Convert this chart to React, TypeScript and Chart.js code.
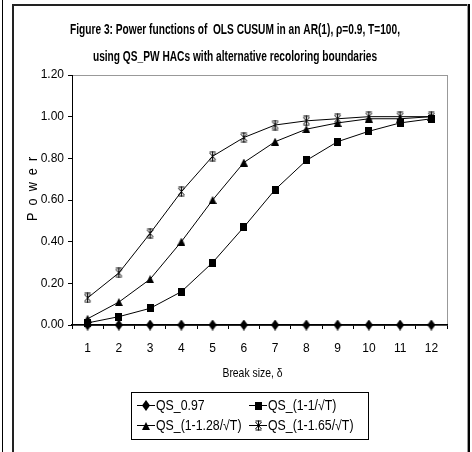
import React, { useEffect, useRef } from "react";
import { Chart, registerables } from "chart.js";

Chart.register(...registerables);

const categories = ["1", "2", "3", "4", "5", "6", "7", "8", "9", "10", "11", "12"];
const seriesLabels = ["QS_0.97", "QS_(1-1/\u221AT)", "QS_(1-1.28/\u221AT)", "QS_(1-1.65/\u221AT)"];
const qs097 = [0, 0, 0, 0, 0, 0, 0, 0, 0, 0, 0, 0];
const qs1 = [0.01, 0.04, 0.08, 0.16, 0.3, 0.47, 0.65, 0.79, 0.88, 0.93, 0.97, 0.99];
const qs128 = [0.03, 0.11, 0.22, 0.4, 0.6, 0.78, 0.88, 0.94, 0.97, 0.99, 0.99, 1.0];
const qs165 = [0.13, 0.25, 0.44, 0.64, 0.81, 0.9, 0.96, 0.98, 0.99, 1.0, 1.0, 1.0];
const titleLines = [
  "Figure 3: Power functions of  OLS CUSUM in an AR(1), \u03C1=0.9, T=100,",
  "using QS_PW HACs with alternative recoloring boundaries",
];
const xTitle = "Break size, \u03B4";
const yTitle = "P o w e r";

const FONT = "'Liberation Sans', Arial, sans-serif";

function makeMarker(kind: string): HTMLCanvasElement {
  const c = document.createElement("canvas");
  const ctx = c.getContext("2d")!;
  ctx.fillStyle = "#000";
  ctx.strokeStyle = "#000";
  if (kind === "diamond") {
    c.width = 8; c.height = 11;
    ctx.beginPath();
    ctx.moveTo(4, 0); ctx.lineTo(8, 5.5); ctx.lineTo(4, 11); ctx.lineTo(0, 5.5);
    ctx.closePath(); ctx.fill();
  } else if (kind === "square") {
    c.width = 7; c.height = 8;
    ctx.fillRect(0, 0, 7, 8);
  } else if (kind === "triangle") {
    c.width = 8; c.height = 8;
    ctx.beginPath();
    ctx.moveTo(4, 0); ctx.lineTo(8, 8); ctx.lineTo(0, 8);
    ctx.closePath(); ctx.fill();
  } else {
    c.width = 9; c.height = 11;
    ctx.lineWidth = 1;
    ctx.beginPath();
    ctx.moveTo(1.5, 2); ctx.lineTo(7.5, 9);
    ctx.moveTo(7.5, 2); ctx.lineTo(1.5, 9);
    ctx.moveTo(4.5, 0.5); ctx.lineTo(4.5, 10.5);
    ctx.moveTo(1.5, 1); ctx.lineTo(7.5, 1);
    ctx.moveTo(1.5, 10); ctx.lineTo(7.5, 10);
    ctx.stroke();
  }
  return c;
}

function drawText(ctx: CanvasRenderingContext2D, text: string, x: number, y: number, font: string, sx: number, align: CanvasTextAlign, rot = 0, spacing = "0px") {
  ctx.save();
  ctx.font = font;
  (ctx as any).letterSpacing = spacing;
  ctx.fillStyle = "#000";
  ctx.textAlign = align;
  ctx.textBaseline = "middle";
  ctx.translate(x, y);
  if (rot) ctx.rotate(rot);
  ctx.scale(sx, 1);
  ctx.fillText(text, 0, 0);
  ctx.restore();
}

export default function App() {
  const ref = useRef<HTMLCanvasElement | null>(null);

  useEffect(() => {
    document.body.style.margin = "0";
    const markers = [makeMarker("diamond"), makeMarker("square"), makeMarker("triangle"), makeMarker("star")];
    const values = [qs097, qs1, qs128, qs165];

    const framePlugin = {
      id: "frame",
      beforeDraw(chart: any) {
        const { ctx, chartArea } = chart;
        ctx.save();
        ctx.fillStyle = "#fff";
        ctx.fillRect(0, 0, chart.width, chart.height);
        ctx.fillStyle = "#000";
        ctx.fillRect(2, 0, 1, chart.height);
        ctx.fillStyle = "#222";
        ctx.fillRect(12, 4, 2, chart.height - 4);
        ctx.fillRect(12, 4, 456, 2);
        ctx.fillStyle = "#999";
        ctx.fillRect(467, 4, 1, chart.height - 4);
        ctx.fillStyle = "#000";
        ctx.fillRect(468, 4, 2, chart.height - 4);
        ctx.strokeStyle = "#999";
        ctx.lineWidth = 1;
        ctx.strokeRect(chartArea.left + 0.5, chartArea.top + 0.5, chartArea.right - chartArea.left, chartArea.bottom - chartArea.top);
        ctx.restore();
      },
    };

    const textPlugin = {
      id: "texts",
      afterDraw(chart: any) {
        const { ctx, chartArea } = chart;
        const tFont = `bold 15px ${FONT}`;
        ctx.save();
        ctx.font = tFont;
        const w1 = ctx.measureText(titleLines[0]).width;
        ctx.restore();
        const sx = 330 / w1;
        drawText(ctx, titleLines[0], 235, 30, tFont, sx, "center");
        drawText(ctx, titleLines[1], 235, 57, tFont, sx, "center");
        drawText(ctx, xTitle, (chartArea.left + chartArea.right) / 2 - 7, 373, `13px ${FONT}`, 0.8, "center");
        drawText(ctx, yTitle, 33, 188, `14px ${FONT}`, 0.9, "center", -Math.PI / 2, "2px");
        const bx = 131, by = 392, bw = 237, bh = 47;
        ctx.save();
        ctx.strokeStyle = "#000";
        ctx.lineWidth = 1;
        ctx.strokeRect(bx + 0.5, by + 0.5, bw, bh);
        chart.data.datasets.forEach((ds: any, i: number) => {
          const col = i % 2, row = Math.floor(i / 2);
          const x0 = bx + 6 + col * 112;
          const y0 = by + 13 + row * 20;
          ctx.beginPath();
          ctx.lineWidth = 1;
          ctx.moveTo(x0, y0 + 0.5);
          ctx.lineTo(x0 + 18, y0 + 0.5);
          ctx.stroke();
          const m = ds.pointStyle as HTMLCanvasElement;
          ctx.drawImage(m, Math.round(x0 + 9 - m.width / 2), Math.round(y0 - m.height / 2 + 0.5));
          drawText(ctx, ds.label, x0 + 19, y0 + 1, `14px ${FONT}`, 0.88, "left");
        });
        ctx.restore();
      },
    };

    const chart = new Chart(ref.current!, {
      type: "line",
      data: {
        labels: categories,
        datasets: values.map((v, i) => ({
          label: seriesLabels[i],
          data: v,
          borderColor: "#000",
          backgroundColor: "#000",
          borderWidth: 1,
          pointStyle: markers[i] as any,
          pointRadius: 4,
          tension: 0,
          clip: false as any,
        })),
      },
      options: {
        animation: false,
        responsive: false,
        maintainAspectRatio: false,
        layout: { padding: { left: 0, right: 25, top: 75, bottom: 67 } },
        plugins: {
          legend: { display: false },
          tooltip: { enabled: false },
          title: { display: false },
        },
        scales: {
          x: {
            type: "category",
            offset: true,
            grid: { display: true, offset: true, drawOnChartArea: false, drawTicks: true, tickLength: 4, color: "#000" },
            border: { display: true, color: "#000", width: 1.5 },
            ticks: { color: "#000", font: { family: FONT, size: 12 }, padding: 12, maxRotation: 0, autoSkip: false },
            afterFit(scale: any) { scale.height = 60; },
          },
          y: {
            min: 0,
            max: 1.2,
            ticks: {
              stepSize: 0.2,
              color: "#000",
              font: { family: FONT, size: 12 },
              padding: 4,
              callback: (v: any) => Number(v).toFixed(2),
            },
            grid: { display: true, drawOnChartArea: false, drawTicks: true, tickLength: 4, color: "#000" },
            border: { display: true, color: "#000", width: 1 },
            afterFit(scale: any) { scale.width = 72; },
          },
        },
      },
      plugins: [framePlugin, textPlugin],
    });
    return () => chart.destroy();
  }, []);

  return (
    <div style={{ position: "fixed", left: 0, top: 0, width: 472, height: 452 }}>
      <canvas ref={ref} width={472} height={452} style={{ display: "block" }} />
    </div>
  );
}
